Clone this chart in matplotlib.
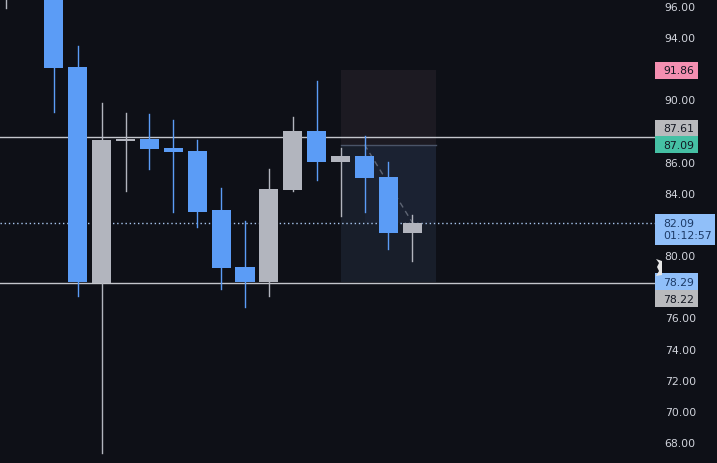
import matplotlib.pyplot as plt
from matplotlib.patches import Rectangle, Polygon

# candle data (index = bar position)
opens = [97.0, 98.4, 97.6, 92.08, 78.22, 87.30, 87.45, 86.90, 86.70, 82.90, 79.24, 78.27, 84.20, 87.97, 86.00, 86.37, 85.04, 81.44]
highs = [99.0, 99.6, 98.2, 93.40, 89.80, 89.10, 89.06, 88.70, 87.40, 84.30, 82.20, 85.50, 88.87, 91.20, 86.88, 87.65, 85.98, 82.58]
lows = [95.9, 97.0, 89.2, 77.40, 67.30, 84.10, 85.50, 82.80, 81.80, 77.80, 76.70, 77.40, 84.10, 84.85, 82.50, 82.77, 80.40, 79.60]
closes = [98.5, 97.6, 92.0, 78.25, 87.40, 87.45, 86.80, 86.60, 82.80, 79.20, 78.27, 84.25, 87.97, 86.00, 86.37, 84.97, 81.44, 82.09]

# short position tool
pos_start, pos_end = 14, 18
entry_bar = 15
entry, stop, target = 87.09, 91.86, 78.29
last_price = 82.09
countdown = "01:12:57"

# horizontal lines
hlines = [87.61, 78.22]

yticks = [96, 94, 90, 86, 84, 80, 76, 74, 72, 70, 68]

bg = '#0e1017'
up_col = '#b2b5be'
down_col = '#5b9cf6'
txt_col = '#d1d4dc'

fig = plt.figure(figsize=(7.17, 4.64), dpi=100, facecolor=bg)
ax = fig.add_axes([0, 0, 655 / 717, 1])
ax.set_facecolor(bg)
ax.set_xlim(-0.25, 27.15)
ax.set_ylim(66.65, 96.45)

# position boxes
ax.add_patch(Rectangle((pos_start, entry), pos_end - pos_start, stop - entry,
                       facecolor='#1c1a22', edgecolor='none', zorder=1))
ax.add_patch(Rectangle((pos_start, target), pos_end - pos_start, entry - target,
                       facecolor='#181e2a', edgecolor='none', zorder=1))
ax.add_patch(Rectangle((entry_bar, last_price), pos_end - entry_bar, entry - last_price,
                       facecolor='#1b2232', edgecolor='none', zorder=1))
ax.plot([pos_start, pos_end], [entry, entry], color='#4a5468', lw=1, zorder=2)
ax.plot([entry_bar, len(closes) - 1], [entry, last_price], color='#5d6473',
        lw=1, ls=(0, (4, 3)), zorder=2)

for h in hlines:
    ax.axhline(h, color='#c4c6cc', lw=1, zorder=2)
ax.axhline(last_price, color='#a9c7f0', lw=1, ls=(0, (1, 2)), zorder=2)

w = 0.8
for i, (o, hi, lo, c) in enumerate(zip(opens, highs, lows, closes)):
    col = up_col if c >= o else down_col
    ax.plot([i, i], [lo, hi], color=col, lw=1, zorder=3)
    bot = min(o, c)
    height = max(abs(c - o), 0.15)
    ax.add_patch(Rectangle((i - w / 2, bot), w, height, facecolor=col,
                           edgecolor='none', zorder=4))

for s in ax.spines.values():
    s.set_visible(False)
ax.set_xticks([])
ax.yaxis.tick_right()
ax.set_yticks(yticks)
ax.set_yticklabels([f'{t:.2f}' for t in yticks])
ax.tick_params(axis='y', length=0, pad=7, labelsize=7.8, labelcolor=txt_col)

# price labels on the scale
tr = ax.get_yaxis_transform()
px = 1 / 655
ppu = 464 / (96.45 - 66.65)


def price_label(y, text, fc, tc='#131722', width=43, lines=1, shift=0):
    # shift: label offset in pixels (positive = up)
    h = 17 * lines / ppu
    top = y + (8.5 + shift) / ppu
    ax.add_patch(Rectangle((1.0, top - h), width * px, h, transform=tr,
                           facecolor=fc, edgecolor='none', clip_on=False, zorder=5))
    ax.text(1.0 + 8 * px, top - h / 2, text, transform=tr, color=tc,
            fontsize=7.8, va='center', ha='left', linespacing=1.25,
            clip_on=False, zorder=6)


price_label(stop, f'{stop:.2f}', '#f48fb1')
price_label(hlines[0], f'{hlines[0]:.2f}', '#b9babd', shift=8.5)
price_label(entry, f'{entry:.2f}', '#45c0a4')
price_label(last_price, f'{last_price:.2f}\n{countdown}', '#90bff9', tc='#1c3a66', width=60, lines=1.8)
price_label(target, f'{target:.2f}', '#90bff9', tc='#1c3a66')
price_label(hlines[1], f'{hlines[1]:.2f}', '#b9babd', shift=-16)

# small marker on the scale (pixel coordinates -> axes/data)
def pt(xp, yp):
    return (1.0 + (xp - 655) * px, 96.45 - yp / ppu)


marker = [pt(656, 260), pt(662, 262), pt(662, 276), pt(656, 277),
          pt(659, 272), pt(657, 268), pt(659, 264)]
ax.add_patch(Polygon(marker, closed=True, transform=tr, facecolor='#e6e6e6',
                     edgecolor='none', clip_on=False, zorder=5))

fig.savefig('out.png', dpi=100, facecolor=bg)
